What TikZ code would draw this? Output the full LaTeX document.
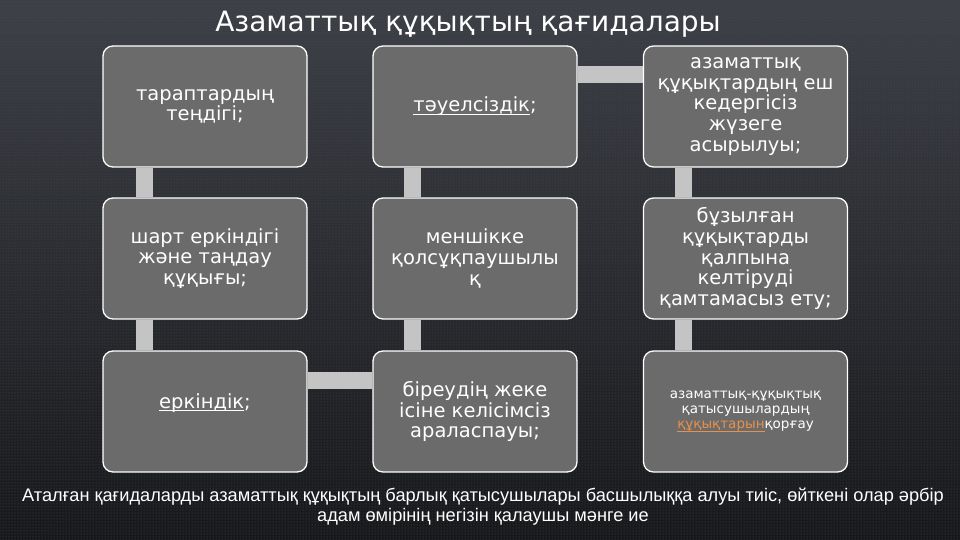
\documentclass[tikz,border=0pt]{standalone}
\usepackage{fontspec}
\setmainfont{DejaVu Sans}
\newfontfamily\notafont{Liberation Sans}
\usepackage{xcolor}
\usepackage{tikz}
\usetikzlibrary{backgrounds,patterns}

\definecolor{fondoArriba}{HTML}{3D4047}
\definecolor{fondoAbajo}{HTML}{17181B}
\definecolor{cajaGris}{HTML}{6B6B6B}
\definecolor{enlaceGris}{HTML}{C4C4C4}
\definecolor{enlaceNaranja}{HTML}{E8904C}

% Subrayado fino, pegado a la línea base
\newcommand{\subrayar}[1]{{\setbox0\hbox{#1}\rlap{\rule[-2.6pt]{\wd0}{0.9pt}}\box0}}
% Letra de las cajas, con interlineado fijo
\newcommand{\letraCaja}{\fontsize{19.5}{20.7}\selectfont\lineskiplimit=-20pt\relax}
\newcommand{\letraChica}{\fontsize{13.5}{15}\selectfont\lineskiplimit=-20pt\relax}

\begin{document}
\begin{tikzpicture}[x=1pt, y=-1pt,
    principio/.style={draw=white, line width=1.3pt, fill=cajaGris, rounded corners=10pt,
      minimum width=204pt, minimum height=121pt, inner sep=2pt, align=center, text=white,
      font=\letraCaja},
    enlace/.style={draw=enlaceGris, line width=17pt}]
% Columnas y filas de la cuadrícula 3x3
\def\colA{205}
\def\colB{475}
\def\colC{745.5}
\def\filaA{106.5}
\def\filaB{258.5}
\def\filaC{411.5}

\useasboundingbox (0,0) rectangle (960,540);

% Título
\node[text=white, font=\fontsize{28}{32}\selectfont] (titulo) at (468,24) {Азаматтық құқықтың қағидалары};

% Primera columna (de arriba abajo)
\node[principio] (pr1) at (\colA,\filaA) {тараптардың\\теңдігі;};
\node[principio] (pr2) at (\colA,\filaB) {шарт еркіндігі\\және таңдау\\құқығы;};
\node[principio] (pr3) at (\colA,\filaC) {\subrayar{еркіндік};\\\mbox{}};

% Segunda columna (de abajo arriba)
\node[principio] (pr4) at (\colB,\filaC) {біреудің жеке\\ісіне келісімсіз\\араласпауы;};
\node[principio] (pr5) at (\colB,\filaB) {меншікке\\қолсұқпаушылы\\қ};
\node[principio] (pr6) at (\colB,\filaA) {\subrayar{тәуелсіздік};};

% Tercera columna (de arriba abajo)
\node[principio] (pr7) at (\colC,\filaA) {азаматтық\\құқықтардың еш\\кедергісіз\\жүзеге\\асырылуы;};
\node[principio] (pr8) at (\colC,\filaB) {бұзылған\\құқықтарды\\қалпына\\келтіруді\\қамтамасыз ету;};
\node[principio, font=\letraChica] (pr9) at (\colC,\filaC)
  {азаматтық-құқықтық\\қатысушылардың\\\textcolor{enlaceNaranja}{\subrayar{құқықтарын}}қорғау};

% Nota inferior
\node[text=white, align=center, font=\notafont\fontsize{18.2}{20}\selectfont] (nota) at (483,507)
  {Аталған қағидаларды азаматтық құқықтың барлық қатысушылары басшылыққа алуы тиіс, өйткені олар әрбір\\адам өмірінің негізін қалаушы мәнге ие};

% Fondo y enlaces detrás de las cajas
\begin{pgfonlayer}{background}
  \shade[top color=fondoArriba, bottom color=fondoAbajo] (0,0) rectangle (960,540);
  \fill[pattern=dots, pattern color=black!70] (0,0) rectangle (960,540);
  \draw[enlace] ([xshift=42pt]pr1.south west) -- ([xshift=42pt]pr2.north west);
  \draw[enlace] ([xshift=42pt]pr2.south west) -- ([xshift=42pt]pr3.north west);
  \draw[enlace] ([yshift=-30pt]pr3.north east) -- ([yshift=-30pt]pr4.north west);
  \draw[enlace] ([xshift=40pt]pr4.north west) -- ([xshift=40pt]pr5.south west);
  \draw[enlace] ([xshift=40pt]pr5.north west) -- ([xshift=40pt]pr6.south west);
  \draw[enlace] ([yshift=-29pt]pr6.north east) -- ([yshift=-29pt]pr7.north west);
  \draw[enlace] ([xshift=41pt]pr7.south west) -- ([xshift=41pt]pr8.north west);
  \draw[enlace] ([xshift=41pt]pr8.south west) -- ([xshift=41pt]pr9.north west);
\end{pgfonlayer}
\end{tikzpicture}
\end{document}
